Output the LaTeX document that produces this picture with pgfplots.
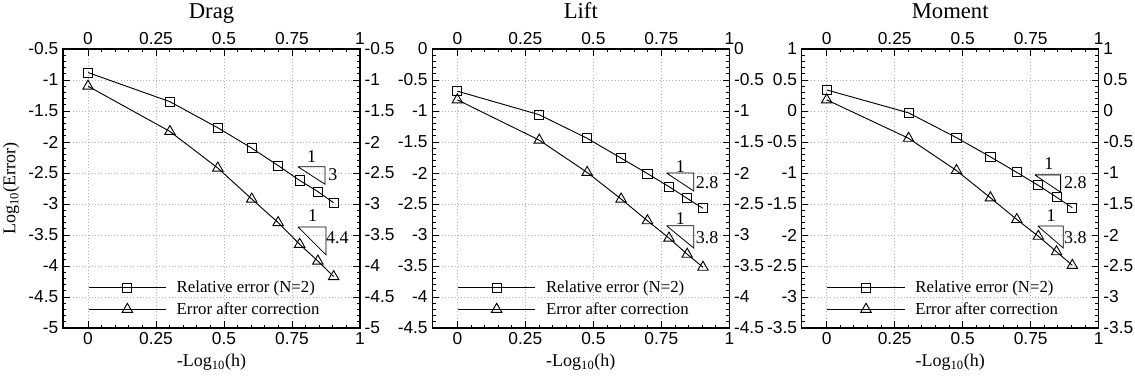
\documentclass[border=0pt]{standalone}
\usepackage{fontspec}
\setmainfont{Liberation Serif}
\newfontfamily\ticksf{Liberation Sans}
\usepackage{pgfplots}
\pgfplotsset{compat=1.18}
\tikzset{ann/.style={font=\fontsize{13.5}{15}\selectfont}}
\pgfplotsset{
 myaxis/.style={
  scale only axis, width=222.75pt, height=209.25pt,
  xmin=-0.092, xmax=1, xtick={0,0.25,0.5,0.75,1}, minor x tick num=4,
  ytick distance=0.5, minor y tick num=4,
  tick label style={font=\ticksf\fontsize{13}{15}\selectfont},
  /pgf/number format/assume math mode=true,
  axis line style={line width=1.1pt},
  major tick length=5pt, minor tick length=2.5pt,
  tick style={black, line width=0.6pt},
 },
 mainaxis/.style={myaxis,
  grid=major, major grid style={dotted, gray!60, line width=0.5pt},
  xlabel={-Log\textsubscript{10}(h)},
  label style={font=\fontsize{13.5}{15}\selectfont},
  legend style={at={(0.084,0.18)}, anchor=north west, draw=none, fill=none, inner sep=0pt,
    font=\fontsize{12.6}{15}\selectfont, row sep=2pt, cells={anchor=west}},
  legend image code/.code={\path[draw=none,fill=none] (0pt,-4pt) rectangle (64pt,4pt);
     \draw[##1,mark=none] (0pt,0pt) -- (58pt,0pt);
     \draw[##1] plot coordinates {(29pt,0pt)};},
 },
 secaxis/.style={myaxis, xticklabel pos=upper, yticklabel pos=right,
  title style={font=\fontsize{17}{19}\selectfont, at={(0.5,1)}, anchor=base, yshift=17pt}},
 relerr/.style={black, line width=0.7pt, mark=square, mark size=3.4pt, mark options={solid, fill=white}},
 correrr/.style={black, line width=0.7pt, mark=triangle, mark size=4.5pt, mark options={solid, fill=white}},
 slope/.style={black, line width=0.6pt, forget plot},
}
\begin{document}
\begin{tikzpicture}
% ---------------- Drag
\begin{axis}[mainaxis, at={(0pt,0pt)}, ymin=-5, ymax=-0.5, ylabel={Log\textsubscript{10}(Error)}]
\addplot[relerr] coordinates {(0,-0.88) (0.30103,-1.35) (0.47712,-1.77) (0.60206,-2.10) (0.69897,-2.38) (0.77815,-2.62) (0.84510,-2.80) (0.90309,-2.98)};
\addlegendentry{Relative error (N=2)}
\addplot[correrr] coordinates {(0,-1.10) (0.30103,-1.83) (0.47712,-2.42) (0.60206,-2.92) (0.69897,-3.30) (0.77815,-3.65) (0.84510,-3.92) (0.90309,-4.17)};
\addlegendentry{Error after correction}
\addplot[slope] coordinates {(0.772,-2.40) (0.871,-2.40) (0.871,-2.68) (0.772,-2.40)};
\addplot[slope] coordinates {(0.772,-3.37) (0.875,-3.37) (0.875,-3.82) (0.772,-3.37)};
\node[ann] at (axis cs:0.822,-2.24) {1};
\node[ann] at (axis cs:0.900,-2.53) {3};
\node[ann] at (axis cs:0.826,-3.19) {1};
\node[ann] at (axis cs:0.917,-3.55) {4.4};
\end{axis}
\begin{axis}[secaxis, at={(0pt,0pt)}, ymin=-5, ymax=-0.5, title={Drag}]
\end{axis}
% ---------------- Lift
\begin{axis}[mainaxis, at={(277pt,0pt)}, ymin=-4.5, ymax=0]
\addplot[relerr] coordinates {(0,-0.68) (0.30103,-1.06) (0.47712,-1.44) (0.60206,-1.76) (0.69897,-2.01) (0.77815,-2.22) (0.84510,-2.41) (0.90309,-2.57)};
\addlegendentry{Relative error (N=2)}
\addplot[correrr] coordinates {(0,-0.82) (0.30103,-1.47) (0.47712,-1.99) (0.60206,-2.42) (0.69897,-2.77) (0.77815,-3.05) (0.84510,-3.31) (0.90309,-3.52)};
\addlegendentry{Error after correction}
\addplot[slope] coordinates {(0.769,-2.00) (0.869,-2.00) (0.869,-2.29) (0.769,-2.00)};
\addplot[slope] coordinates {(0.769,-2.85) (0.869,-2.85) (0.869,-3.21) (0.769,-2.85)};
\node[ann] at (axis cs:0.82,-1.89) {1};
\node[ann] at (axis cs:0.918,-2.16) {2.8};
\node[ann] at (axis cs:0.82,-2.73) {1};
\node[ann] at (axis cs:0.918,-3.05) {3.8};
\end{axis}
\begin{axis}[secaxis, at={(277pt,0pt)}, ymin=-4.5, ymax=0, title={Lift}]
\end{axis}
% ---------------- Moment
\begin{axis}[mainaxis, at={(554pt,0pt)}, ymin=-3.5, ymax=1]
\addplot[relerr] coordinates {(0,0.34) (0.30103,-0.03) (0.47712,-0.43) (0.60206,-0.74) (0.69897,-0.99) (0.77815,-1.20) (0.84510,-1.39) (0.90309,-1.56)};
\addlegendentry{Relative error (N=2)}
\addplot[correrr] coordinates {(0,0.18) (0.30103,-0.44) (0.47712,-0.96) (0.60206,-1.40) (0.69897,-1.75) (0.77815,-2.02) (0.84510,-2.27) (0.90309,-2.49)};
\addlegendentry{Error after correction}
\addplot[slope] coordinates {(0.765,-1.03) (0.860,-1.03) (0.860,-1.31) (0.765,-1.03)};
\addplot[slope] coordinates {(0.776,-1.855) (0.870,-1.855) (0.870,-2.21) (0.776,-1.855)};
\node[ann] at (axis cs:0.817,-0.85) {1};
\node[ann] at (axis cs:0.914,-1.16) {2.8};
\node[ann] at (axis cs:0.825,-1.68) {1};
\node[ann] at (axis cs:0.914,-2.04) {3.8};
\end{axis}
\begin{axis}[secaxis, at={(554pt,0pt)}, ymin=-3.5, ymax=1, title={Moment}]
\end{axis}
\pgfresetboundingbox
\path[use as bounding box] (-47.25pt,-39.75pt) rectangle (804pt,246pt);
\end{tikzpicture}
\end{document}
